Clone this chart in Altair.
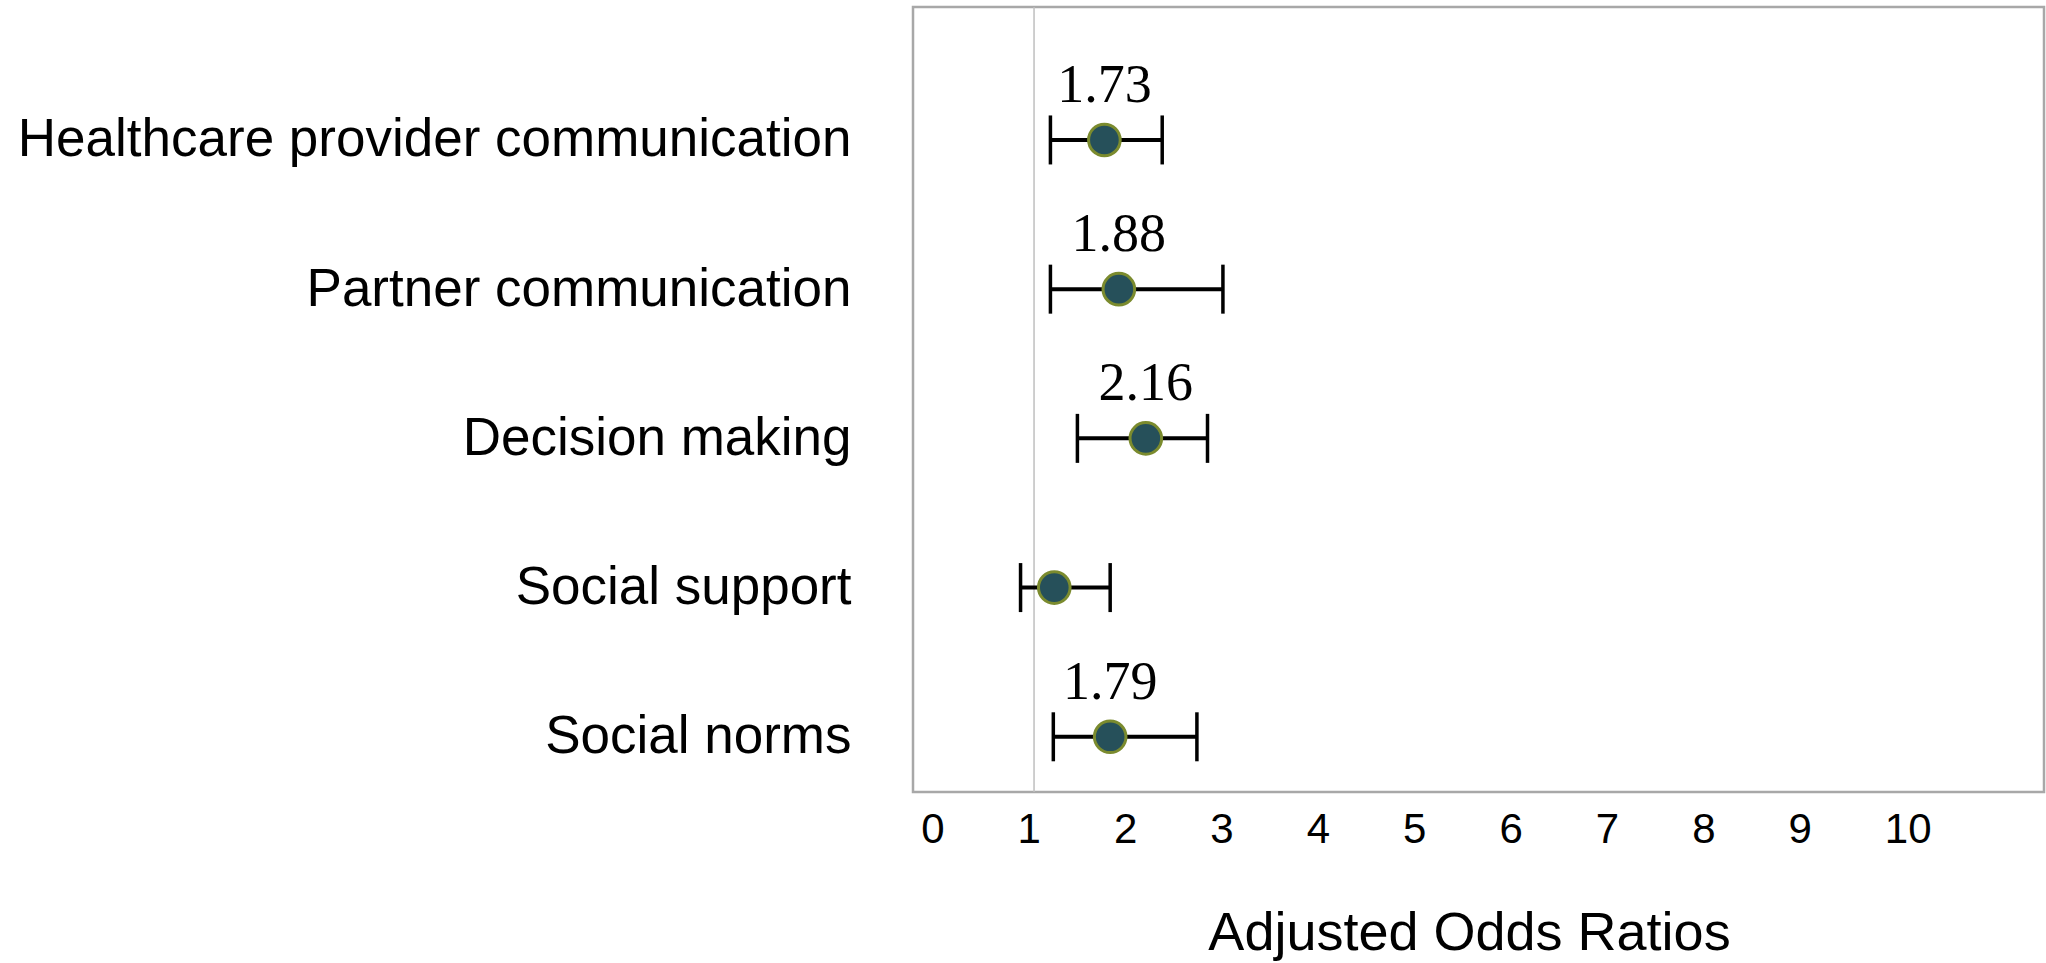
import json
import altair as alt
import pandas as pd

# Forest plot of adjusted odds ratios with 95% confidence intervals
factors = [
    "Healthcare provider communication",
    "Partner communication",
    "Decision making",
    "Social support",
    "Social norms",
]
odds_ratio = [1.73, 1.88, 2.16, 1.21, 1.79]
ci_low = [1.17, 1.17, 1.45, 0.86, 1.20]
ci_high = [2.33, 2.96, 2.80, 1.79, 2.69]
value_labels = ["1.73", "1.88", "2.16", "", "1.79"]
x_ticks = list(range(0, 11))

df = pd.DataFrame({
    "row": list(range(1, len(factors) + 1)),
    "factor": factors,
    "aor": odds_ratio,
    "lo": ci_low,
    "hi": ci_high,
    "lab": value_labels,
})

SANS = "Liberation Sans, Arial, sans-serif"
SERIF = "Liberation Serif, Georgia, serif"

x_scale = alt.Scale(domain=[-0.256, 11.48], nice=False, zero=False)
y_scale = alt.Scale(domain=[0.109, 5.37], nice=False, zero=False, reverse=True)

label_expr = json.dumps(factors) + "[datum.value - 1]"

x_axis = alt.Axis(
    title="Adjusted Odds Ratios",
    values=x_ticks,
    grid=False,
    domain=False,
    ticks=False,
    tickSize=0,
    labelFont=SANS,
    labelFontSize=42,
    labelColor="#000000",
    labelAlign="left",
    labelBaseline="alphabetic",
    labelOffset=-17,
    labelPadding=50,
    labelFlush=False,
    labelOverlap=False,
    titleFont=SANS,
    titleFontSize=54,
    titleFontWeight="normal",
    titleColor="#000000",
    titleBaseline="alphabetic",
    titleAlign="center",
    titleX=556,
    titleY=157,
)

y_axis = alt.Axis(
    title=None,
    values=list(range(1, len(factors) + 1)),
    labelExpr=label_expr,
    grid=False,
    domain=False,
    ticks=False,
    tickSize=0,
    labelFont=SANS,
    labelFontSize=53,
    labelColor="#000000",
    labelAlign="right",
    labelBaseline="middle",
    labelPadding=62,
    labelFlush=False,
    labelOverlap=False,
    labelLimit=2000,
)


def xq(field):
    return alt.X(field, type="quantitative", scale=x_scale, axis=x_axis, title="Adjusted Odds Ratios")


def yq(field):
    return alt.Y(field, type="quantitative", scale=y_scale, axis=y_axis, title=None)


base = alt.Chart(df)

# reference line at OR = 1
ref = alt.Chart(pd.DataFrame({"v": [1]})).mark_rule(
    color="#bfbfbf", strokeWidth=1.5
).encode(x=xq("v"))

ci_line = base.mark_rule(color="#000000", strokeWidth=4).encode(
    x=xq("lo"),
    x2="hi:Q",
    y=yq("row"),
)

cap_lo = base.mark_tick(
    orient="vertical", size=49, thickness=3.5, color="#000000", opacity=1
).encode(x=xq("lo"), y=yq("row"))

cap_hi = base.mark_tick(
    orient="vertical", size=49, thickness=3.5, color="#000000", opacity=1
).encode(x=xq("hi"), y=yq("row"))

dots = base.mark_point(
    shape="circle",
    filled=True,
    size=1000,
    fill="#26505a",
    stroke="#7b8b2e",
    strokeWidth=3,
    opacity=1,
).encode(x=xq("aor"), y=yq("row"))

labels = base.transform_filter("datum.lab != ''").mark_text(
    font=SERIF,
    fontSize=54,
    color="#000000",
    align="center",
    baseline="alphabetic",
    dy=-38,
).encode(
    x=xq("aor"),
    y=yq("row"),
    text="lab:N",
)

chart = (
    alt.layer(ref, ci_line, cap_lo, cap_hi, dots, labels)
    .properties(
        width=1131,
        height=785,
        autosize=alt.AutoSizeParams(type="none"),
        padding={"left": 913, "top": 7, "right": 2, "bottom": 171},
        background="#ffffff",
    )
    .configure_view(stroke="#a8a8a8", strokeWidth=2.5)
)

chart.save("out.html", embed_options={"renderer": "svg", "actions": False})
